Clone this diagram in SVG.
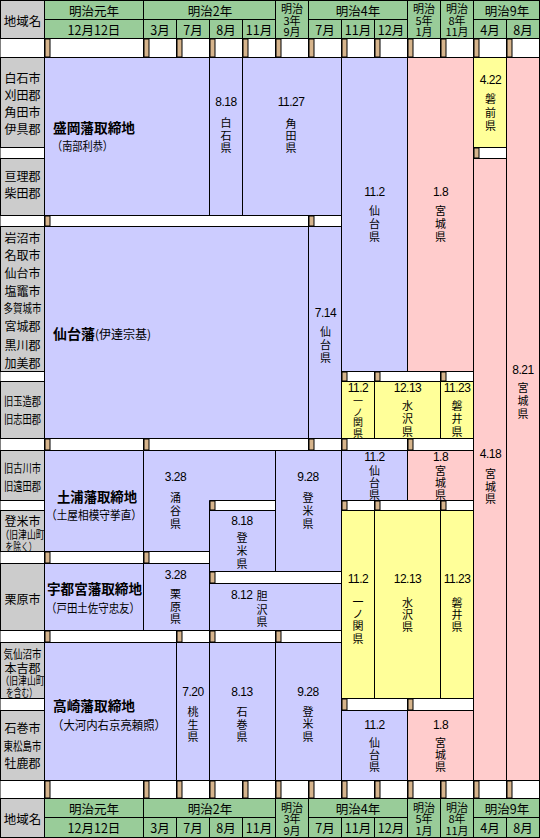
<svg xmlns="http://www.w3.org/2000/svg" width="540" height="838" viewBox="0 0 540 838">
<style>
rect,polygon{stroke:#000;stroke-width:1}
.g{fill:#99CC99}.gr{fill:#CCCCCC}.l{fill:#CCCCFF}.p{fill:#FFCCCC}.y{fill:#FFFF99}.w{fill:#FFFFFF}
.tan{fill:#D6B48C;stroke:none}
.sl{stroke:#000;stroke-width:1;fill:none}
text{font-family:"Noto Sans CJK JP","Noto Sans",sans-serif;font-size:12px;fill:#000;dominant-baseline:central}
.c{text-anchor:middle}
.v{font-size:11px}
.vs{font-size:10px}
.n{font-family:"Liberation Sans","Noto Sans CJK JP",sans-serif;font-size:12px;letter-spacing:-0.5px}
.b{font-weight:bold;font-size:14px}
.h{font-size:12.5px;text-anchor:middle}
.hs{font-size:11px;text-anchor:middle}
.s{font-size:11px}
</style>
<rect x="0" y="0" width="540" height="838" fill="#FFFFFF" stroke="none"/>

<g id="header-top">
<rect class="gr" x="0.5" y="0.5" width="44" height="38"/>
<rect class="g" x="44.5" y="0.5" width="99" height="19"/>
<rect class="g" x="44.5" y="19.5" width="99" height="19"/>
<rect class="g" x="143.5" y="0.5" width="132" height="19"/>
<rect class="g" x="143.5" y="19.5" width="33" height="19"/>
<rect class="g" x="176.5" y="19.5" width="33" height="19"/>
<rect class="g" x="209.5" y="19.5" width="33" height="19"/>
<rect class="g" x="242.5" y="19.5" width="33" height="19"/>
<rect class="g" x="275.5" y="0.5" width="33" height="38"/>
<rect class="g" x="308.5" y="0.5" width="99" height="19"/>
<rect class="g" x="308.5" y="19.5" width="33" height="19"/>
<rect class="g" x="341.5" y="19.5" width="33" height="19"/>
<rect class="g" x="374.5" y="19.5" width="33" height="19"/>
<rect class="g" x="407.5" y="0.5" width="33" height="38"/>
<rect class="g" x="440.5" y="0.5" width="33" height="38"/>
<rect class="g" x="473.5" y="0.5" width="66" height="19"/>
<rect class="g" x="473.5" y="19.5" width="33" height="19"/>
<rect class="g" x="506.5" y="19.5" width="33" height="19"/>
<text class="h" x="22.5" y="20">地域名</text>
<text class="h" x="94" y="10">明治元年</text>
<text class="h" x="94" y="29">12月12日</text>
<text class="h" x="210" y="10">明治2年</text>
<text class="h" x="160" y="29">3月</text>
<text class="h" x="193" y="29">7月</text>
<text class="h" x="226" y="29">8月</text>
<text class="h" x="259" y="29">11月</text>
<text class="hs" x="292" y="8">明治</text>
<text class="hs" x="292" y="19.5">3年</text>
<text class="hs" x="292" y="31">9月</text>
<text class="h" x="358" y="10">明治4年</text>
<text class="h" x="325" y="29">7月</text>
<text class="h" x="358" y="29">11月</text>
<text class="h" x="391" y="29">12月</text>
<text class="hs" x="424" y="8">明治</text>
<text class="hs" x="424" y="19.5">5年</text>
<text class="hs" x="424" y="31">1月</text>
<text class="hs" x="457" y="8">明治</text>
<text class="hs" x="457" y="19.5">8年</text>
<text class="hs" x="457" y="31">11月</text>
<text class="h" x="507" y="10">明治9年</text>
<text class="h" x="490" y="29">4月</text>
<text class="h" x="523" y="29">8月</text>
</g>

<g id="header-bottom">
<rect class="gr" x="0.5" y="798.5" width="44" height="39"/>
<rect class="g" x="44.5" y="798.5" width="99" height="19"/>
<rect class="g" x="44.5" y="817.5" width="99" height="20"/>
<rect class="g" x="143.5" y="798.5" width="132" height="19"/>
<rect class="g" x="143.5" y="817.5" width="33" height="20"/>
<rect class="g" x="176.5" y="817.5" width="33" height="20"/>
<rect class="g" x="209.5" y="817.5" width="33" height="20"/>
<rect class="g" x="242.5" y="817.5" width="33" height="20"/>
<rect class="g" x="275.5" y="798.5" width="33" height="39"/>
<rect class="g" x="308.5" y="798.5" width="99" height="19"/>
<rect class="g" x="308.5" y="817.5" width="33" height="20"/>
<rect class="g" x="341.5" y="817.5" width="33" height="20"/>
<rect class="g" x="374.5" y="817.5" width="33" height="20"/>
<rect class="g" x="407.5" y="798.5" width="33" height="39"/>
<rect class="g" x="440.5" y="798.5" width="33" height="39"/>
<rect class="g" x="473.5" y="798.5" width="66" height="19"/>
<rect class="g" x="473.5" y="817.5" width="33" height="20"/>
<rect class="g" x="506.5" y="817.5" width="33" height="20"/>
<text class="h" x="22.5" y="818">地域名</text>
<text class="h" x="94" y="808">明治元年</text>
<text class="h" x="94" y="827">12月12日</text>
<text class="h" x="210" y="808">明治2年</text>
<text class="h" x="160" y="827">3月</text>
<text class="h" x="193" y="827">7月</text>
<text class="h" x="226" y="827">8月</text>
<text class="h" x="259" y="827">11月</text>
<text class="hs" x="292" y="806.5">明治</text>
<text class="hs" x="292" y="818">3年</text>
<text class="hs" x="292" y="829.5">9月</text>
<text class="h" x="358" y="808">明治4年</text>
<text class="h" x="325" y="827">7月</text>
<text class="h" x="358" y="827">11月</text>
<text class="h" x="391" y="827">12月</text>
<text class="hs" x="424" y="806.5">明治</text>
<text class="hs" x="424" y="818">5年</text>
<text class="hs" x="424" y="829.5">1月</text>
<text class="hs" x="457" y="806.5">明治</text>
<text class="hs" x="457" y="818">8年</text>
<text class="hs" x="457" y="829.5">11月</text>
<text class="h" x="507" y="808">明治9年</text>
<text class="h" x="490" y="827">4月</text>
<text class="h" x="523" y="827">8月</text>
</g>

<g id="spacers">
<rect class="w" x="44.5" y="38.5" width="495" height="19"/>
<rect class="w" x="473.5" y="147.5" width="33" height="11"/>
<rect class="w" x="44.5" y="215.5" width="297" height="11"/>
<rect class="w" x="341.5" y="371.5" width="132" height="10"/>
<rect class="w" x="44.5" y="438.5" width="429" height="12"/>
<rect class="w" x="209.5" y="500.5" width="66" height="10"/>
<rect class="w" x="341.5" y="500.5" width="132" height="10"/>
<rect class="w" x="44.5" y="551.5" width="165" height="12"/>
<rect class="w" x="209.5" y="571.5" width="132" height="12"/>
<rect class="w" x="44.5" y="630.5" width="297" height="12"/>
<rect class="w" x="341.5" y="698.5" width="132" height="12"/>
<rect class="w" x="44.5" y="780.5" width="495" height="18"/>
<g class="tan">
<rect x="45" y="39" width="5" height="18"/><rect x="144" y="39" width="5" height="18"/><rect x="177" y="39" width="5" height="18"/><rect x="210" y="39" width="5" height="18"/><rect x="243" y="39" width="5" height="18"/><rect x="276" y="39" width="5" height="18"/><rect x="309" y="39" width="5" height="18"/><rect x="342" y="39" width="5" height="18"/><rect x="375" y="39" width="5" height="18"/><rect x="408" y="39" width="5" height="18"/><rect x="441" y="39" width="5" height="18"/><rect x="474" y="39" width="5" height="18"/><rect x="507" y="39" width="5" height="18"/>
<rect x="474" y="148" width="5" height="10"/>
<rect x="45" y="216" width="5" height="10"/><rect x="309" y="216" width="5" height="10"/>
<rect x="342" y="372" width="5" height="9"/><rect x="375" y="372" width="5" height="9"/><rect x="441" y="372" width="5" height="9"/>
<rect x="45" y="439" width="5" height="11"/><rect x="144" y="439" width="5" height="11"/><rect x="309" y="439" width="5" height="11"/><rect x="342" y="439" width="5" height="11"/><rect x="408" y="439" width="5" height="11"/>
<rect x="210" y="501" width="5" height="9"/>
<rect x="342" y="501" width="5" height="9"/><rect x="375" y="501" width="5" height="9"/><rect x="441" y="501" width="5" height="9"/>
<rect x="45" y="552" width="5" height="11"/><rect x="144" y="552" width="5" height="11"/>
<rect x="210" y="572" width="5" height="11"/>
<rect x="45" y="631" width="5" height="11"/><rect x="177" y="631" width="5" height="11"/><rect x="210" y="631" width="5" height="11"/><rect x="276" y="631" width="5" height="11"/>
<rect x="342" y="699" width="5" height="11"/><rect x="408" y="699" width="5" height="11"/>
<rect x="45" y="781" width="5" height="17"/><rect x="144" y="781" width="5" height="17"/><rect x="177" y="781" width="5" height="17"/><rect x="210" y="781" width="5" height="17"/><rect x="243" y="781" width="5" height="17"/><rect x="276" y="781" width="5" height="17"/><rect x="309" y="781" width="5" height="17"/><rect x="342" y="781" width="5" height="17"/><rect x="375" y="781" width="5" height="17"/><rect x="408" y="781" width="5" height="17"/><rect x="441" y="781" width="5" height="17"/><rect x="474" y="781" width="5" height="17"/><rect x="507" y="781" width="5" height="17"/>
</g>
<path class="sl" d="M143.5 38.5V57.5M176.5 38.5V57.5M209.5 38.5V57.5M242.5 38.5V57.5M275.5 38.5V57.5M308.5 38.5V57.5M341.5 38.5V57.5M374.5 38.5V57.5M407.5 38.5V57.5M440.5 38.5V57.5M473.5 38.5V57.5M506.5 38.5V57.5
M308.5 215.5V226.5M374.5 371.5V381.5M440.5 371.5V381.5M143.5 438.5V450.5M308.5 438.5V450.5M341.5 438.5V450.5M407.5 438.5V450.5
M374.5 500.5V510.5M440.5 500.5V510.5M143.5 551.5V563.5M176.5 630.5V642.5M209.5 630.5V642.5M275.5 630.5V642.5M407.5 698.5V710.5
M143.5 780.5V798.5M176.5 780.5V798.5M209.5 780.5V798.5M242.5 780.5V798.5M275.5 780.5V798.5M308.5 780.5V798.5M341.5 780.5V798.5M374.5 780.5V798.5M407.5 780.5V798.5M440.5 780.5V798.5M473.5 780.5V798.5M506.5 780.5V798.5"/>
</g>

<g id="regions">
<g id="r-shiroishi"><rect class="gr" x="0.5" y="57.5" width="44" height="90"/>
<text class="c" x="22.5" y="77">白石市</text><text class="c" x="22.5" y="94">刈田郡</text><text class="c" x="22.5" y="111.5">角田市</text><text class="c" x="22.5" y="128.5">伊具郡</text></g>
<g id="r-watari"><rect class="gr" x="0.5" y="158.5" width="44" height="57"/>
<text class="c" x="22.5" y="175">亘理郡</text><text class="c" x="22.5" y="192">柴田郡</text></g>
<g id="r-iwanuma"><rect class="gr" x="0.5" y="226.5" width="44" height="145"/>
<text class="c" x="22.5" y="237">岩沼市</text><text class="c" x="22.5" y="254.5">名取市</text><text class="c" x="22.5" y="272">仙台市</text><text class="c" x="22.5" y="290">塩竈市</text><text class="c" x="22.5" y="307.5" textLength="38" lengthAdjust="spacingAndGlyphs">多賀城市</text><text class="c" x="22.5" y="325.5">宮城郡</text><text class="c" x="22.5" y="344">黒川郡</text><text class="c" x="22.5" y="362">加美郡</text></g>
<g id="r-tamatsukuri"><rect class="gr" x="0.5" y="381.5" width="44" height="57"/>
<text class="c" x="22.5" y="400" textLength="37" lengthAdjust="spacingAndGlyphs">旧玉造郡</text><text class="c" x="22.5" y="418" textLength="37" lengthAdjust="spacingAndGlyphs">旧志田郡</text></g>
<g id="r-furukawa"><rect class="gr" x="0.5" y="450.5" width="44" height="50"/>
<text class="c" x="22.5" y="467" textLength="37" lengthAdjust="spacingAndGlyphs">旧古川市</text><text class="c" x="22.5" y="485" textLength="37" lengthAdjust="spacingAndGlyphs">旧遠田郡</text></g>
<g id="r-tome"><rect class="gr" x="0.5" y="510.5" width="44" height="41"/>
<text class="c" x="22.5" y="520">登米市</text><text class="c s" x="22.5" y="534" textLength="44" lengthAdjust="spacingAndGlyphs">（旧津山町</text><text class="c s" x="21" y="546" textLength="31" lengthAdjust="spacingAndGlyphs">を除く）</text></g>
<g id="r-kurihara"><rect class="gr" x="0.5" y="563.5" width="44" height="67"/>
<text class="c" x="22.5" y="598">栗原市</text></g>
<g id="r-kesennuma"><rect class="gr" x="0.5" y="642.5" width="44" height="56"/>
<text class="c" x="22.5" y="653" textLength="38" lengthAdjust="spacingAndGlyphs">気仙沼市</text><text class="c" x="22.5" y="667.5">本吉郡</text><text class="c s" x="22.5" y="680" textLength="44" lengthAdjust="spacingAndGlyphs">（旧津山町</text><text class="c s" x="21.5" y="691.5" textLength="31" lengthAdjust="spacingAndGlyphs">を含む）</text></g>
<g id="r-ishinomaki"><rect class="gr" x="0.5" y="710.5" width="44" height="70"/>
<text class="c" x="22.5" y="727">石巻市</text><text class="c" x="22.5" y="745" textLength="38" lengthAdjust="spacingAndGlyphs">東松島市</text><text class="c" x="22.5" y="762">牡鹿郡</text></g>
</g>

<g id="cells">
<g id="n-morioka"><rect class="l" x="44.5" y="57.5" width="165" height="158"/>
<text class="b" x="53" y="127" textLength="82" lengthAdjust="spacingAndGlyphs">盛岡藩取締地</text><text x="52" y="145" textLength="61" lengthAdjust="spacingAndGlyphs">（南部利恭）</text></g>
<g id="n-shiroishi"><rect class="l" x="209.5" y="57.5" width="33" height="158"/>
<text class="c v"><tspan class="n" x="226" y="102">8.18</tspan><tspan x="226" y="122">白</tspan><tspan x="226" y="134.5">石</tspan><tspan x="226" y="147">県</tspan></text></g>
<g id="n-kakuda"><rect class="l" x="242.5" y="57.5" width="99" height="158"/>
<text class="c v"><tspan class="n" x="291" y="102">11.27</tspan><tspan x="291" y="123">角</tspan><tspan x="291" y="135">田</tspan><tspan x="291" y="147">県</tspan></text></g>
<g id="n-sendai-a"><rect class="l" x="341.5" y="57.5" width="66" height="314"/>
<text class="c v"><tspan class="n" x="374.5" y="192">11.2</tspan><tspan x="374.5" y="210">仙</tspan><tspan x="374.5" y="223">台</tspan><tspan x="374.5" y="235.5">県</tspan></text></g>
<g id="n-miyagi-a"><rect class="p" x="407.5" y="57.5" width="66" height="314"/>
<text class="c v"><tspan class="n" x="440.5" y="192">1.8</tspan><tspan x="440.5" y="210">宮</tspan><tspan x="440.5" y="223">城</tspan><tspan x="440.5" y="235.5">県</tspan></text></g>
<g id="n-iwasaki"><rect class="y" x="473.5" y="57.5" width="33" height="90"/>
<text class="c v"><tspan class="n" x="490.5" y="80">4.22</tspan><tspan x="490.5" y="98">磐</tspan><tspan x="490.5" y="111.5">前</tspan><tspan x="490.5" y="125">県</tspan></text></g>
<g id="n-miyagi-418"><rect class="p" x="473.5" y="158.5" width="33" height="622"/>
<text class="c v"><tspan class="n" x="490.5" y="454">4.18</tspan><tspan x="490.5" y="473">宮</tspan><tspan x="490.5" y="485.5">城</tspan><tspan x="490.5" y="498">県</tspan></text></g>
<g id="n-miyagi-821"><rect class="p" x="506.5" y="57.5" width="33" height="723"/>
<text class="c v"><tspan class="n" x="523" y="370">8.21</tspan><tspan x="523" y="387">宮</tspan><tspan x="523" y="400">城</tspan><tspan x="523" y="413">県</tspan></text></g>
<g id="n-sendaihan"><rect class="l" x="44.5" y="226.5" width="264" height="212"/>
<text x="53" y="333"><tspan class="b">仙台藩</tspan><tspan>(伊達宗基)</tspan></text></g>
<g id="n-sendai-714"><rect class="l" x="308.5" y="226.5" width="33" height="212"/>
<text class="c v"><tspan class="n" x="325.5" y="313">7.14</tspan><tspan x="325.5" y="331">仙</tspan><tspan x="325.5" y="344">台</tspan><tspan x="325.5" y="357">県</tspan></text></g>
<g id="n-ichinoseki-b"><rect class="y" x="341.5" y="381.5" width="33" height="57"/>
<text class="c vs"><tspan class="n" x="358" y="388">11.2</tspan><tspan x="358" y="400">一</tspan><tspan x="358" y="410.5">ノ</tspan><tspan x="358" y="421">関</tspan><tspan x="358" y="431.5">県</tspan></text></g>
<g id="n-mizusawa-b"><rect class="y" x="374.5" y="381.5" width="66" height="57"/>
<text class="c v"><tspan class="n" x="407.5" y="388">12.13</tspan><tspan x="407.5" y="405">水</tspan><tspan x="407.5" y="418">沢</tspan><tspan x="407.5" y="430.5">県</tspan></text></g>
<g id="n-iwai-b"><rect class="y" x="440.5" y="381.5" width="33" height="57"/>
<text class="c v"><tspan class="n" x="457" y="388">11.23</tspan><tspan x="457" y="405">磐</tspan><tspan x="457" y="418">井</tspan><tspan x="457" y="430.5">県</tspan></text></g>
<g id="n-tsuchiura"><rect class="l" x="44.5" y="450.5" width="99" height="101"/>
<text class="b" x="57" y="496" textLength="80" lengthAdjust="spacingAndGlyphs">土浦藩取締地</text><text x="46" y="514" textLength="96" lengthAdjust="spacingAndGlyphs">（土屋相模守挙直）</text></g>
<g id="n-wakuya"><polygon class="l" points="143.5,450.5 275.5,450.5 275.5,500.5 209.5,500.5 209.5,551.5 143.5,551.5"/>
<text class="c v"><tspan class="n" x="175.5" y="477">3.28</tspan><tspan x="175.5" y="497">涌</tspan><tspan x="175.5" y="510">谷</tspan><tspan x="175.5" y="522.5">県</tspan></text></g>
<g id="n-tome-928a"><rect class="l" x="275.5" y="450.5" width="66" height="121"/>
<text class="c v"><tspan class="n" x="308" y="477">9.28</tspan><tspan x="308" y="497">登</tspan><tspan x="308" y="510">米</tspan><tspan x="308" y="522.5">県</tspan></text></g>
<g id="n-sendai-c"><rect class="l" x="341.5" y="450.5" width="66" height="50"/>
<text class="c v"><tspan class="n" x="374.5" y="456.5">11.2</tspan><tspan x="374.5" y="470">仙</tspan><tspan x="374.5" y="482">台</tspan><tspan x="374.5" y="493.5">県</tspan></text></g>
<g id="n-miyagi-c"><rect class="p" x="407.5" y="450.5" width="66" height="50"/>
<text class="c v"><tspan class="n" x="440.5" y="456.5">1.8</tspan><tspan x="440.5" y="470">宮</tspan><tspan x="440.5" y="482">城</tspan><tspan x="440.5" y="493.5">県</tspan></text></g>
<g id="n-tome-818"><rect class="l" x="209.5" y="510.5" width="66" height="61"/>
<text class="c v"><tspan class="n" x="242" y="521">8.18</tspan><tspan x="242" y="537">登</tspan><tspan x="242" y="550">米</tspan><tspan x="242" y="562.5">県</tspan></text></g>
<g id="n-ichinoseki-c"><rect class="y" x="341.5" y="510.5" width="33" height="188"/>
<text class="c v"><tspan class="n" x="358" y="579">11.2</tspan><tspan x="358" y="601">一</tspan><tspan x="358" y="613">ノ</tspan><tspan x="358" y="625">関</tspan><tspan x="358" y="637.5">県</tspan></text></g>
<g id="n-mizusawa-c"><rect class="y" x="374.5" y="510.5" width="66" height="188"/>
<text class="c v"><tspan class="n" x="407.5" y="579">12.13</tspan><tspan x="407.5" y="601.5">水</tspan><tspan x="407.5" y="613.5">沢</tspan><tspan x="407.5" y="625.5">県</tspan></text></g>
<g id="n-iwai-c"><rect class="y" x="440.5" y="510.5" width="33" height="188"/>
<text class="c v"><tspan class="n" x="457" y="579">11.23</tspan><tspan x="457" y="601.5">磐</tspan><tspan x="457" y="613.5">井</tspan><tspan x="457" y="625.5">県</tspan></text></g>
<g id="n-utsunomiya"><rect class="l" x="44.5" y="563.5" width="99" height="67"/>
<text class="b" x="47" y="587.5" textLength="95" lengthAdjust="spacingAndGlyphs">宇都宮藩取締地</text><text x="46" y="607" textLength="94" lengthAdjust="spacingAndGlyphs">（戸田土佐守忠友）</text></g>
<g id="n-kurihara"><rect class="l" x="143.5" y="563.5" width="66" height="67"/>
<text class="c v"><tspan class="n" x="175.5" y="575">3.28</tspan><tspan x="175.5" y="593">栗</tspan><tspan x="175.5" y="605.5">原</tspan><tspan x="175.5" y="618">県</tspan></text></g>
<g id="n-isawa"><rect class="l" x="209.5" y="583.5" width="132" height="47"/>
<text class="n" x="231" y="595">8.12</text><text class="c v" x="262" y="595">胆</text><text class="c v" x="262" y="608.5">沢</text><text class="c v" x="262" y="621">県</text></g>
<g id="n-takasaki"><rect class="l" x="44.5" y="642.5" width="132" height="138"/>
<text class="b" x="53" y="705" textLength="82" lengthAdjust="spacingAndGlyphs">高崎藩取締地</text><text x="52" y="724" textLength="114" lengthAdjust="spacingAndGlyphs">（大河内右京亮頼照）</text></g>
<g id="n-monou"><rect class="l" x="176.5" y="642.5" width="33" height="138"/>
<text class="c v"><tspan class="n" x="193" y="692">7.20</tspan><tspan x="193" y="711">桃</tspan><tspan x="193" y="723.5">生</tspan><tspan x="193" y="736">県</tspan></text></g>
<g id="n-ishinomaki"><rect class="l" x="209.5" y="642.5" width="66" height="138"/>
<text class="c v"><tspan class="n" x="242" y="692">8.13</tspan><tspan x="242" y="711">石</tspan><tspan x="242" y="723.5">巻</tspan><tspan x="242" y="736">県</tspan></text></g>
<g id="n-tome-928d"><rect class="l" x="275.5" y="642.5" width="66" height="138"/>
<text class="c v"><tspan class="n" x="308" y="692">9.28</tspan><tspan x="308" y="710.5">登</tspan><tspan x="308" y="723">米</tspan><tspan x="308" y="735.5">県</tspan></text></g>
<g id="n-sendai-d"><rect class="l" x="341.5" y="710.5" width="66" height="70"/>
<text class="c v"><tspan class="n" x="374.5" y="725">11.2</tspan><tspan x="374.5" y="742">仙</tspan><tspan x="374.5" y="754">台</tspan><tspan x="374.5" y="766">県</tspan></text></g>
<g id="n-miyagi-d"><rect class="p" x="407.5" y="710.5" width="66" height="70"/>
<text class="c v"><tspan class="n" x="440.5" y="725">1.8</tspan><tspan x="440.5" y="742">宮</tspan><tspan x="440.5" y="754">城</tspan><tspan x="440.5" y="766">県</tspan></text></g>
</g>
<g id="connectors"/>
</svg>
